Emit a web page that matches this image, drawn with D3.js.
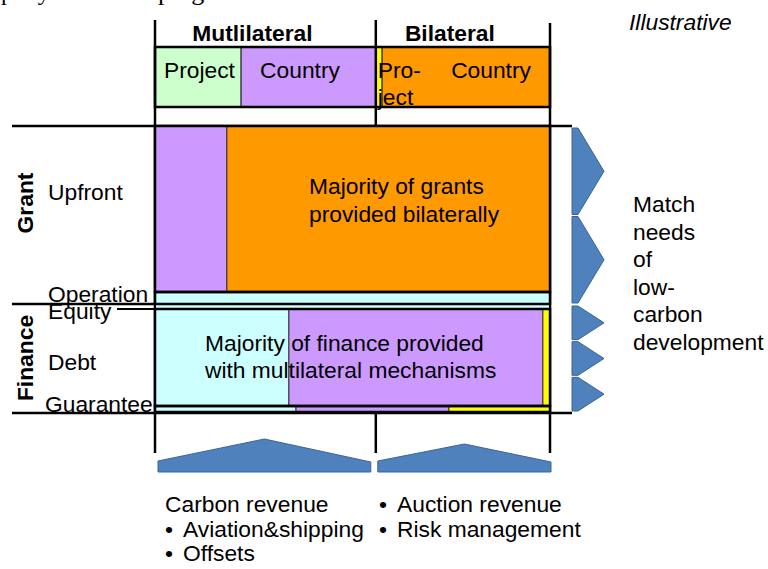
<!DOCTYPE html>
<html>
<head>
<meta charset="utf-8">
<script src="https://cdn.jsdelivr.net/npm/d3@7"></script>
<style>
	body { margin:0; background:#fff; }
	svg { display:block; font-family:"Liberation Sans", Arial, sans-serif; }
</style>
</head>
<body>
<div id="chart"></div>
<script>
// channels across the top (share of the width, in %)
var groupNames = ['Mutlilateral', 'Bilateral'];
var columnNames = ['Project', 'Country', 'Pro-ject', 'Country'];
var columnShares = [21.8, 34.1, 1.6, 42.5];

// instruments down the side (relative heights)
var sectionNames = ['Grant', 'Finance'];
var rowNames = ['Upfront', 'Operation', 'Equity', 'Debt', 'Guarantee'];
var rowSizes = [166, 12, 5, 97, 6];

// who provides each instrument, by row (% of width)
var segmentKeys = ['shared', 'multiCountry', 'bilateralProject', 'bilateralCountry'];
var upfrontShares   = [0, 18.2, 0, 81.8];
var operationShares = [100, 0, 0, 0];
var equityShares    = [100, 0, 0, 0];
var debtShares      = [33.9, 64.3, 1.8, 0];
var guaranteeShares = [35.7, 38.7, 25.6, 0];

// revenue sources under each group
var revenueHeights = [33, 28];
var revenueLines = [['Carbon revenue', 'Aviation&shipping', 'Offsets'],
	['Auction revenue', 'Risk management']];
var revenueBullets = [[false, true, true], [true, true]];
var needsArrows = [2, 3];
var needsLines = ['Match', 'needs', 'of', 'low-', 'carbon', 'development'];

var colors = {
	shared:'#CCFFFF', multiProject:'#CCFFCC', multiCountry:'#CC99FF',
	bilateralProject:'#FFFF00', bilateralCountry:'#FF9900', arrow:'#4F81BD'
};
var headerColors = [colors.multiProject, colors.multiCountry, colors.bilateralProject, colors.bilateralCountry];

var width = 768, height = 569, fs = 22.8;
var svg = d3.select('#chart').append('svg')
	.attr('width', width)
	.attr('height', height);

var x = d3.scaleLinear().domain([0, 100]).range([155, 550]);
var y = d3.scaleLinear().domain([0, d3.sum(rowSizes)]).range([126, 412]);

// cut-off line of text from the page above
svg.append('text')
	.attr('x', 1).attr('y', 0)
	.attr('font-family', '"Liberation Serif", serif')
	.attr('font-size', 24)
	.attr('letter-spacing', 7)
	.text('pay');
svg.append('text')
	.attr('x', 158).attr('y', 0)
	.attr('font-family', '"Liberation Serif", serif')
	.attr('font-size', 26)
	.text('ping');

svg.append('text')
	.attr('x', 629).attr('y', 30)
	.attr('font-size', fs)
	.attr('font-style', 'italic')
	.text('Illustrative');

// header cells
var cum = 0;
var cols = columnShares.map(function(s, i) {
	var c = {name: columnNames[i], x0: cum, x1: cum + s, color: headerColors[i]};
	cum += s;
	return c;
});
var hTop = 47, hBot = 107;
svg.selectAll('rect.head')
	.data(cols)
	.enter().append('rect')
	.attr('class', 'head')
	.attr('x', function(d) { return x(d.x0); })
	.attr('y', hTop)
	.attr('width', function(d) { return x(d.x1) - x(d.x0); })
	.attr('height', hBot - hTop)
	.attr('fill', function(d) { return d.color; })
	.attr('stroke', '#222')
	.attr('stroke-width', 1);
svg.append('rect')
	.attr('x', x(0)).attr('y', hTop)
	.attr('width', x(100) - x(0)).attr('height', hBot - hTop)
	.attr('fill', 'none').attr('stroke', '#000').attr('stroke-width', 2.5);

var headText = [
	{t:'Project', x: x(cols[0].x0) + 9, y: 78},
	{t:'Country', x: x(cols[1].x0) + 19, y: 78},
	{t:'Pro-', x: x(cols[2].x0) + 2, y: 78},
	{t:'ject', x: x(cols[2].x0) + 2, y: 105},
	{t:'Country', x: x(cols[3].x0) + 69, y: 78}
];
svg.selectAll('text.head')
	.data(headText)
	.enter().append('text')
	.attr('class', 'head')
	.attr('x', function(d) { return d.x; })
	.attr('y', function(d) { return d.y; })
	.attr('font-size', fs)
	.text(function(d) { return d.t; });

var groupSplit = columnShares[0] + columnShares[1];
var groups = [[0, groupSplit], [groupSplit, 100]];
svg.selectAll('text.group')
	.data(groupNames)
	.enter().append('text')
	.attr('class', 'group')
	.attr('x', function(d, i) { return (x(groups[i][0]) + x(groups[i][1])) / 2 - 13; })
	.attr('y', 41)
	.attr('text-anchor', 'middle')
	.attr('font-size', fs)
	.attr('font-weight', 'bold')
	.text(function(d) { return d; });

// vertical dividers
[0, groupSplit, 100].forEach(function(v, i) {
	svg.append('line')
		.attr('x1', x(v)).attr('x2', x(v))
		.attr('y1', i === 2 ? 23 : 20).attr('y2', 453)
		.attr('stroke', '#000').attr('stroke-width', 2.5);
});

// horizontal rules out to the left and right
var grantEnd = rowSizes[0] + rowSizes[1];
svg.append('line').attr('x1', 12).attr('x2', 572).attr('y1', y(0)).attr('y2', y(0))
	.attr('stroke', '#000').attr('stroke-width', 2.5);
svg.append('line').attr('x1', 12).attr('x2', 572).attr('y1', y.range()[1] + 1).attr('y2', y.range()[1] + 1)
	.attr('stroke', '#000').attr('stroke-width', 2.5);
svg.append('line').attr('x1', 12).attr('x2', x(0)).attr('y1', y(grantEnd)).attr('y2', y(grantEnd))
	.attr('stroke', '#000').attr('stroke-width', 2.5);
svg.append('line').attr('x1', 117).attr('x2', x(0)).attr('y1', y(grantEnd + rowSizes[2])).attr('y2', y(grantEnd + rowSizes[2]))
	.attr('stroke', '#000').attr('stroke-width', 2);

// rows of the matrix
var shareRows = [upfrontShares, operationShares, equityShares, debtShares, guaranteeShares];
var acc = 0;
var rows = rowNames.map(function(n, i) {
	var r = {row: n, y0: acc, y1: acc + rowSizes[i]};
	segmentKeys.forEach(function(k, j) { r[k] = shareRows[i][j]; });
	acc += rowSizes[i];
	return r;
});
var stacked = d3.stack().keys(segmentKeys)(rows);

var cells = [];
stacked.forEach(function(layer) {
	layer.forEach(function(d) {
		if (d[1] - d[0] > 0)
			cells.push({key: layer.key, x0: d[0], x1: d[1], y0: d.data.y0, y1: d.data.y1});
	});
});
svg.selectAll('rect.cell')
	.data(cells)
	.enter().append('rect')
	.attr('class', 'cell')
	.attr('x', function(d) { return x(d.x0); })
	.attr('y', function(d) { return y(d.y0); })
	.attr('width', function(d) { return x(d.x1) - x(d.x0); })
	.attr('height', function(d) { return y(d.y1) - y(d.y0); })
	.attr('fill', function(d) { return colors[d.key]; })
	.attr('stroke', '#333')
	.attr('stroke-width', 1);
svg.selectAll('rect.row')
	.data(rows)
	.enter().append('rect')
	.attr('class', 'row')
	.attr('x', x(0))
	.attr('y', function(d) { return y(d.y0); })
	.attr('width', x(100) - x(0))
	.attr('height', function(d) { return y(d.y1) - y(d.y0); })
	.attr('fill', 'none')
	.attr('stroke', '#000')
	.attr('stroke-width', function(d, i) { return i === 2 ? 2 : 2.5; });

// text on the matrix
svg.append('text').attr('font-size', fs)
	.selectAll('tspan')
	.data(['Majority of grants', 'provided bilaterally'])
	.enter().append('tspan')
	.attr('x', 309)
	.attr('y', function(d, i) { return 194 + i * 28; })
	.text(function(d) { return d; });
svg.append('text').attr('font-size', fs)
	.selectAll('tspan')
	.data(['Majority of finance provided', 'with multilateral mechanisms'])
	.enter().append('tspan')
	.attr('x', 205)
	.attr('y', function(d, i) { return 351 + i * 27; })
	.text(function(d) { return d; });

// row labels
var rowLabelY = [200, 302, 319, 370, 412];
svg.selectAll('text.rowlab')
	.data(rowNames)
	.enter().append('text')
	.attr('class', 'rowlab')
	.attr('x', function(d, i) { return i === 4 ? 45 : 48; })
	.attr('y', function(d, i) { return rowLabelY[i]; })
	.attr('font-size', fs)
	.text(function(d) { return d; });

var sections = [[0, grantEnd], [grantEnd, d3.sum(rowSizes)]];
svg.selectAll('text.section')
	.data(sectionNames)
	.enter().append('text')
	.attr('class', 'section')
	.attr('transform', function(d, i) {
		return 'translate(33,' + ((y(sections[i][0]) + y(sections[i][1])) / 2 + (i === 0 ? -12 : 0)) + ') rotate(-90)';
	})
	.attr('text-anchor', 'middle')
	.attr('font-size', fs)
	.attr('font-weight', 'bold')
	.text(function(d) { return d; });

// chevrons on the right
var chev = [];
sections.forEach(function(s, i) {
	var y0 = y(s[0]) + 1, y1 = y(s[1]), n = needsArrows[i];
	var step = (y1 - y0) / n;
	for (var k = 0; k < n; k++)
		chev.push([y0 + k * step + 1, y0 + (k + 1) * step - 1]);
});
svg.selectAll('path.chev')
	.data(chev)
	.enter().append('path')
	.attr('class', 'chev')
	.attr('d', function(d) {
		var m = (d[0] + d[1]) / 2;
		return 'M572,' + d[0] + 'L578,' + d[0] + 'L604,' + m + 'L578,' + d[1] + 'L572,' + d[1] + 'Z';
	})
	.attr('fill', colors.arrow)
	.attr('stroke', '#3A6496')
	.attr('stroke-width', 1);

svg.append('text').attr('font-size', fs)
	.selectAll('tspan')
	.data(needsLines)
	.enter().append('tspan')
	.attr('x', 633)
	.attr('y', function(d, i) { return 212 + i * 27.6; })
	.text(function(d) { return d; });

// revenue arrows below
var base = 472;
svg.selectAll('path.rev')
	.data(groups)
	.enter().append('path')
	.attr('class', 'rev')
	.attr('d', function(g, i) {
		var a = x(g[0]) + (i === 0 ? 3 : 2), b = x(g[1]) - (i === 0 ? 5 : -1), m = (a + b) / 2;
		return 'M' + a + ',' + base + 'L' + a + ',' + (base - 11) + 'L' + m + ',' + (base - revenueHeights[i])
			+ 'L' + b + ',' + (base - 10) + 'L' + b + ',' + base + 'Z';
	})
	.attr('fill', colors.arrow)
	.attr('stroke', '#3A6496')
	.attr('stroke-width', 1);

var revX = [165, 379];
revenueLines.forEach(function(lines, i) {
	lines.forEach(function(t, j) {
		var ty = 512 + j * 24.5;
		if (revenueBullets[i][j]) {
			svg.append('text').attr('font-size', fs)
				.attr('x', revX[i]).attr('y', ty).text('\u2022');
			svg.append('text').attr('font-size', fs)
				.attr('x', revX[i] + 18).attr('y', ty).text(t);
		} else {
			svg.append('text').attr('font-size', fs)
				.attr('x', revX[i]).attr('y', ty).text(t);
		}
	});
});
</script>
</body>
</html>
